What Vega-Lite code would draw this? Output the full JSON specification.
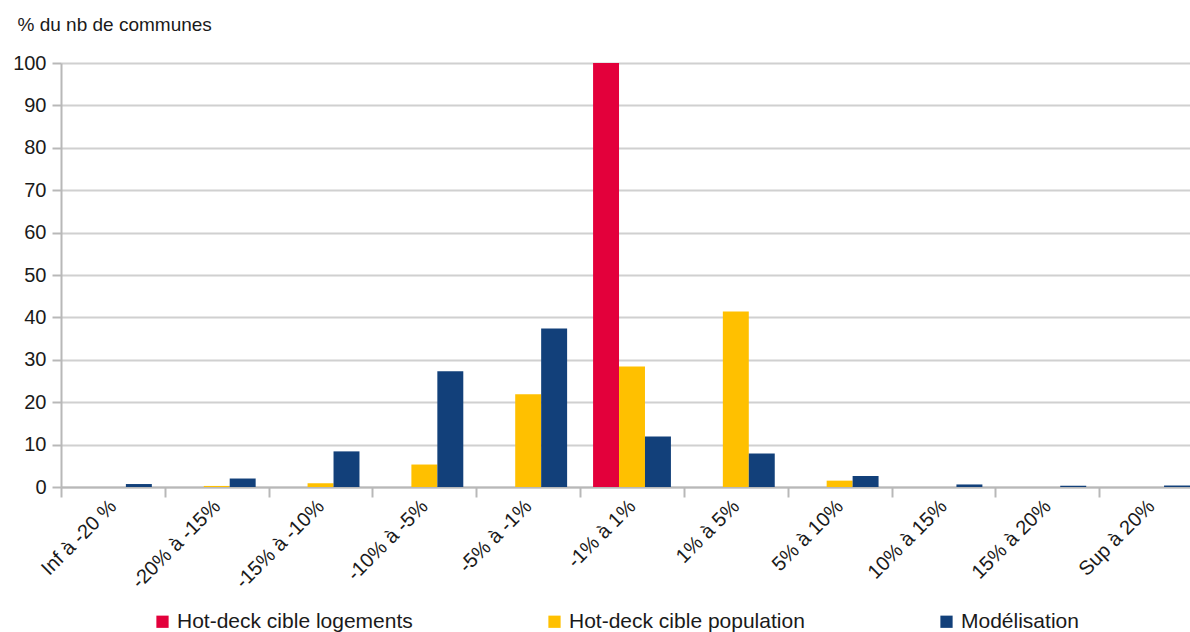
{
  "$schema": "https://vega.github.io/schema/vega-lite/v6.json",
  "width": 1129,
  "height": 424,
  "autosize": {"type": "none"},
  "padding": {"left": 61, "top": 63, "right": 0, "bottom": 145},
  "background": "white",
  "config": {
    "view": {"stroke": null},
    "font": "Liberation Sans",
    "axis": {"labelColor": "#1a1a1a", "titleColor": "#1a1a1a", "labelFont": "Liberation Sans", "titleFont": "Liberation Sans"},
    "legend": {"labelFont": "Liberation Sans", "labelColor": "#1a1a1a"}
  },
  "data": {
    "values": [
      {"classe": "Inf à -20 %", "methode": "Hot-deck cible logements", "pct": 0},
      {"classe": "Inf à -20 %", "methode": "Hot-deck cible population", "pct": 0},
      {"classe": "Inf à -20 %", "methode": "Modélisation", "pct": 0.7},
      {"classe": "-20% à -15%", "methode": "Hot-deck cible logements", "pct": 0},
      {"classe": "-20% à -15%", "methode": "Hot-deck cible population", "pct": 0.25},
      {"classe": "-20% à -15%", "methode": "Modélisation", "pct": 2.0},
      {"classe": "-15% à -10%", "methode": "Hot-deck cible logements", "pct": 0},
      {"classe": "-15% à -10%", "methode": "Hot-deck cible population", "pct": 0.9},
      {"classe": "-15% à -10%", "methode": "Modélisation", "pct": 8.4},
      {"classe": "-10% à -5%", "methode": "Hot-deck cible logements", "pct": 0},
      {"classe": "-10% à -5%", "methode": "Hot-deck cible population", "pct": 5.3},
      {"classe": "-10% à -5%", "methode": "Modélisation", "pct": 27.3},
      {"classe": "-5% à -1%", "methode": "Hot-deck cible logements", "pct": 0},
      {"classe": "-5% à -1%", "methode": "Hot-deck cible population", "pct": 21.9},
      {"classe": "-5% à -1%", "methode": "Modélisation", "pct": 37.4},
      {"classe": "-1% à 1%", "methode": "Hot-deck cible logements", "pct": 100},
      {"classe": "-1% à 1%", "methode": "Hot-deck cible population", "pct": 28.4},
      {"classe": "-1% à 1%", "methode": "Modélisation", "pct": 11.9},
      {"classe": "1% à 5%", "methode": "Hot-deck cible logements", "pct": 0},
      {"classe": "1% à 5%", "methode": "Hot-deck cible population", "pct": 41.4},
      {"classe": "1% à 5%", "methode": "Modélisation", "pct": 7.9},
      {"classe": "5% à 10%", "methode": "Hot-deck cible logements", "pct": 0},
      {"classe": "5% à 10%", "methode": "Hot-deck cible population", "pct": 1.5},
      {"classe": "5% à 10%", "methode": "Modélisation", "pct": 2.6},
      {"classe": "10% à 15%", "methode": "Hot-deck cible logements", "pct": 0},
      {"classe": "10% à 15%", "methode": "Hot-deck cible population", "pct": 0},
      {"classe": "10% à 15%", "methode": "Modélisation", "pct": 0.6},
      {"classe": "15% à 20%", "methode": "Hot-deck cible logements", "pct": 0},
      {"classe": "15% à 20%", "methode": "Hot-deck cible population", "pct": 0},
      {"classe": "15% à 20%", "methode": "Modélisation", "pct": 0.3},
      {"classe": "Sup à 20%", "methode": "Hot-deck cible logements", "pct": 0},
      {"classe": "Sup à 20%", "methode": "Hot-deck cible population", "pct": 0},
      {"classe": "Sup à 20%", "methode": "Modélisation", "pct": 0.35}
    ]
  },
  "mark": {"type": "bar"},
  "encoding": {
    "x": {
      "field": "classe",
      "type": "nominal",
      "sort": null,
      "scale": {"paddingInner": 0, "paddingOuter": 0, "range": [0, 1142]},
      "axis": {
        "title": null,
        "labelAngle": -45,
        "labelAlign": "right",
        "labelBaseline": "middle",
        "labelFontSize": 20,
        "labelPadding": 6,
        "labelLimit": 0,
        "tickBand": "extent",
        "tickSize": 10,
        "tickWidth": 2,
        "tickColor": "#b8b8b8",
        "domainColor": "#b8b8b8",
        "domainWidth": 2,
        "grid": false
      }
    },
    "xOffset": {
      "field": "methode",
      "type": "nominal",
      "sort": ["Hot-deck cible logements", "Hot-deck cible population", "Modélisation"],
      "scale": {"paddingInner": 0, "paddingOuter": 0.5}
    },
    "y": {
      "field": "pct",
      "type": "quantitative",
      "scale": {"domain": [0, 100], "nice": false},
      "axis": {
        "title": "% du nb de communes",
        "titleAngle": 0,
        "titleAlign": "left",
        "titleBaseline": "alphabetic",
        "titleX": -44,
        "titleY": -33,
        "titleFontSize": 19,
        "titleFontWeight": "normal",
        "values": [0, 10, 20, 30, 40, 50, 60, 70, 80, 90, 100],
        "labelFontSize": 20,
        "labelPadding": 6,
        "tickSize": 9,
        "tickWidth": 2,
        "tickColor": "#b8b8b8",
        "domainColor": "#b8b8b8",
        "domainWidth": 2,
        "gridColor": "#d0d0d0",
        "gridWidth": 2
      }
    },
    "color": {
      "field": "methode",
      "type": "nominal",
      "sort": ["Hot-deck cible logements", "Hot-deck cible population", "Modélisation"],
      "scale": {
        "domain": ["Hot-deck cible logements", "Hot-deck cible population", "Modélisation"],
        "range": ["#e3003b", "#ffc000", "#12407a"]
      },
      "legend": {
        "title": null,
        "orient": "none",
        "direction": "horizontal",
        "legendX": 91,
        "legendY": 548,
        "padding": 0,
        "symbolType": "square",
        "symbolSize": 150,
        "symbolStrokeWidth": 0,
        "labelFontSize": 21,
        "labelLimit": 0,
        "labelOffset": 4,
        "columnPadding": 131
      }
    }
  }
}
